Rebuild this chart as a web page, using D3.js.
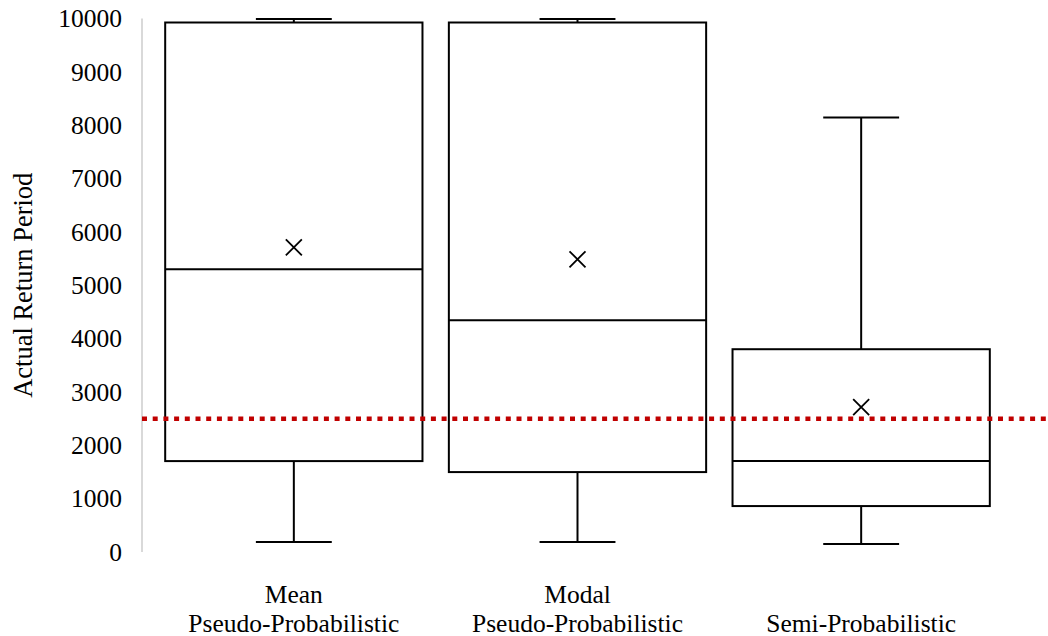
<!DOCTYPE html>
<html>
<head>
<meta charset="utf-8">
<script src="https://cdn.jsdelivr.net/npm/d3@7"></script>
<style>
  html, body { margin: 0; padding: 0; background: #fff; }
  svg { display: block; }
  text { font-family: "Liberation Serif", "Times New Roman", serif; fill: #000; }
</style>
</head>
<body>
<svg id="chart" width="1048" height="636"></svg>
<script>
// ---- data ----
const categories = ["Mean\nPseudo-Probabilistic", "Modal\nPseudo-Probabilistic", "Semi-Probabilistic"];
const whiskerMin = [187, 187, 150];
const q1Values = [1704, 1498, 861];
const medianValues = [5300, 4345, 1704];
const q3Values = [9925, 9925, 3801];
const whiskerMax = [9990, 9990, 8146];
const meanValues = [5712, 5487, 2715];
const yTicks = [0, 1000, 2000, 3000, 4000, 5000, 6000, 7000, 8000, 9000, 10000];
const thresholdValue = 2500;
const yLabel = "Actual Return Period";

const rows = categories.map((c, i) => ({
  cat: c, min: whiskerMin[i], q1: q1Values[i], med: medianValues[i],
  q3: q3Values[i], max: whiskerMax[i], mean: meanValues[i]
}));

const svg = d3.select("#chart");

const y = d3.scaleLinear().domain([0, 10000]).range([552, 18.5]);
const x = d3.scaleBand().domain(categories).range([152, 1003])
  .paddingInner(0.093).paddingOuter(0.0465);

// axis line (light grey)
svg.append("line")
  .attr("x1", 142).attr("x2", 142)
  .attr("y1", y(10000)).attr("y2", y(0))
  .attr("stroke", "#d9d9d9").attr("stroke-width", 2);

// y tick labels via axis
const yAxis = d3.axisLeft(y).tickValues(yTicks).tickFormat(d3.format("d")).tickSize(0).tickPadding(0);
const gy = svg.append("g").attr("transform", "translate(122,0)").call(yAxis);
gy.select(".domain").remove();
gy.selectAll("text")
  .attr("font-size", 25.5).attr("fill", "#000");

// y axis title
svg.append("text")
  .attr("transform", `translate(32,${(y(0) + y(10000)) / 2}) rotate(-90)`)
  .attr("text-anchor", "middle")
  .attr("font-size", 26.5)
  .text(yLabel);

// boxes
const capFrac = 0.295;
const g = svg.append("g");
rows.forEach(r => {
  const x0 = x(r.cat), bw = x.bandwidth(), cx = x0 + bw / 2, cw = bw * capFrac;
  const sw = 2;
  g.append("line").attr("x1", cx).attr("x2", cx).attr("y1", y(r.max)).attr("y2", y(r.q3))
    .attr("stroke", "#000").attr("stroke-width", sw);
  g.append("line").attr("x1", cx).attr("x2", cx).attr("y1", y(r.q1)).attr("y2", y(r.min))
    .attr("stroke", "#000").attr("stroke-width", sw);
  g.append("line").attr("x1", cx - cw / 2).attr("x2", cx + cw / 2).attr("y1", y(r.max)).attr("y2", y(r.max))
    .attr("stroke", "#000").attr("stroke-width", sw);
  g.append("line").attr("x1", cx - cw / 2).attr("x2", cx + cw / 2).attr("y1", y(r.min)).attr("y2", y(r.min))
    .attr("stroke", "#000").attr("stroke-width", sw);
  g.append("rect").attr("x", x0).attr("y", y(r.q3)).attr("width", bw).attr("height", y(r.q1) - y(r.q3))
    .attr("fill", "#fff").attr("stroke", "#000").attr("stroke-width", sw);
  g.append("line").attr("x1", x0).attr("x2", x0 + bw).attr("y1", y(r.med)).attr("y2", y(r.med))
    .attr("stroke", "#000").attr("stroke-width", sw);
  const s = 8, my = y(r.mean);
  g.append("path")
    .attr("d", `M${cx - s},${my - s}L${cx + s},${my + s}M${cx - s},${my + s}L${cx + s},${my - s}`)
    .attr("stroke", "#000").attr("stroke-width", 1.8).attr("fill", "none");
});

// threshold dotted red line
svg.append("line")
  .attr("x1", 142).attr("x2", 1048)
  .attr("y1", y(thresholdValue)).attr("y2", y(thresholdValue))
  .attr("stroke", "#c00000").attr("stroke-width", 4.5)
  .attr("stroke-dasharray", "5,5.7");

// category labels (each line a separate text element)
categories.forEach(c => {
  const lines = c.split("\n");
  const cx = x(c) + x.bandwidth() / 2;
  const lh = 28.6;
  const baseY = 631.5 - (lines.length - 1) * lh;
  lines.forEach((ln, i) => {
    svg.append("text").attr("text-anchor", "middle").attr("font-size", 25.5)
      .attr("x", cx).attr("y", baseY + i * lh).text(ln);
  });
});
</script>
</body>
</html>
